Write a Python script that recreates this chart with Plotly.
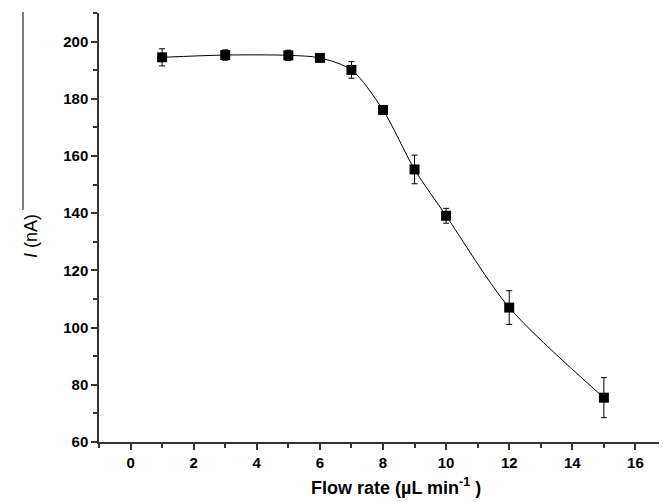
import plotly.graph_objects as go

flow_rate = [1, 3, 5, 6, 7, 8, 9, 10, 12, 15]
current = [194.5, 195.3, 195.2, 194.3, 190.1, 176.1, 155.3, 139.1, 107.0, 75.5]
error = [3.0, 1.8, 1.8, 0.8, 2.9, 1.0, 5.0, 2.6, 5.9, 7.0]
x_ticks = [0, 2, 4, 6, 8, 10, 12, 14, 16]
y_ticks = [60, 80, 100, 120, 140, 160, 180, 200]

# the page body has an 8px margin; size the figure so it fills 667x502
OFF = 8
W, H = 667 - OFF, 502 - OFF
ML, MR, MT, MB = 99 - OFF, 0, 13 - OFF, 60
pw = W - ML - MR
ph = H - MT - MB

def px_x(x):  # page pixel -> paper x
    return (x - OFF - ML) / pw

def px_y(y):  # page pixel -> paper y
    return (H - MB - (y - OFF)) / ph

fig = go.Figure()
fig.add_trace(go.Scatter(
    x=flow_rate, y=current, mode="lines",
    line=dict(color="black", width=1, shape="spline", smoothing=0.8),
    hoverinfo="skip", showlegend=False))
fig.add_trace(go.Scatter(
    x=flow_rate, y=current, mode="markers",
    marker=dict(symbol="square", size=10, color="black"),
    error_y=dict(type="data", array=error, color="black", thickness=1, width=3),
    showlegend=False))

font_tick = dict(family="Liberation Sans, Arial", size=15, color="black", weight="bold")
axis_common = dict(ticks="outside", ticklen=6, tickwidth=1.5, tickcolor="#333",
                   showline=True, linecolor="#333", linewidth=1.5,
                   showgrid=False, zeroline=False, tickfont=font_tick)
fig.update_xaxes(range=[-1, 17], tickvals=x_ticks, **axis_common,
                 minor=dict(dtick=1, ticks="outside", ticklen=4, tickcolor="#333", tickwidth=1.5))
fig.update_yaxes(range=[60, 210], tickvals=y_ticks, **axis_common,
                 minor=dict(dtick=10, ticks="outside", ticklen=4, tickcolor="#333", tickwidth=1.5))

fig.add_annotation(text="Flow rate (µL min<sup>-1</sup> )", xref="paper", yref="paper",
                   x=px_x(396), y=px_y(486), xanchor="center", yanchor="middle",
                   showarrow=False,
                   font=dict(family="Liberation Sans, Arial", size=18, color="black", weight="bold"))
fig.add_annotation(text="<i>I</i> (nA)", xref="paper", yref="paper",
                   x=px_x(31), y=px_y(236),
                   xanchor="center", yanchor="middle", textangle=-90, showarrow=False,
                   font=dict(family="Liberation Sans, Arial", size=18, color="black"))
fig.add_shape(type="line", xref="paper", yref="paper",
              x0=px_x(23), x1=px_x(23), y0=px_y(12), y1=px_y(210),
              line=dict(color="#555", width=1.5))

fig.update_layout(width=W, height=H, margin=dict(l=ML, r=MR, t=MT, b=MB),
                  plot_bgcolor="white", paper_bgcolor="white")
fig.write_html("out.html")
